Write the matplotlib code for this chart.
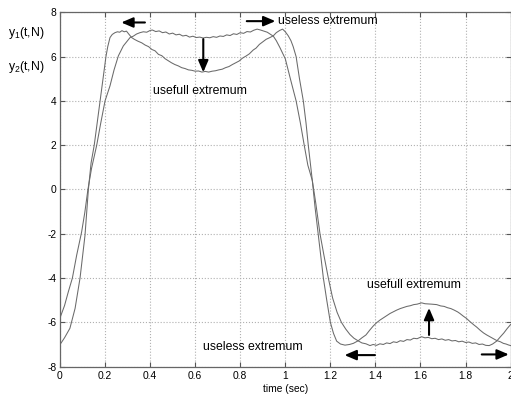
import matplotlib
matplotlib.use('Agg')
import matplotlib.pyplot as plt

plt.rcParams['font.family'] = ['Liberation Sans', 'DejaVu Sans']
plt.rcParams['mathtext.fontset'] = 'custom'
plt.rcParams['mathtext.rm'] = 'Liberation Sans'
plt.rcParams['mathtext.it'] = 'Liberation Sans'

### Data
# y2 : starts at -5.8, rises later, flat top ~7
t_a = [0.00, 0.02, 0.037, 0.055, 0.074, 0.096, 0.110, 0.124, 0.140, 0.163, 0.180, 0.200,
       0.222, 0.240, 0.259, 0.281, 0.300, 0.311, 0.325, 0.340, 0.355, 0.370, 0.385, 0.400,
       0.410, 0.425, 0.440, 0.455, 0.470, 0.485, 0.500, 0.515, 0.530, 0.545, 0.560, 0.575,
       0.590, 0.605, 0.620, 0.635, 0.650, 0.665, 0.680, 0.695, 0.710, 0.725, 0.740, 0.755,
       0.770, 0.785, 0.800, 0.815, 0.830, 0.845, 0.860, 0.875, 0.890, 0.905, 0.920, 0.935,
       0.947, 0.960, 0.976, 1.000, 1.025, 1.048, 1.067, 1.084, 1.100, 1.120, 1.135, 1.154,
       1.172, 1.191, 1.210, 1.230, 1.249, 1.268, 1.287, 1.305, 1.324, 1.340, 1.358, 1.376,
       1.390, 1.405, 1.420, 1.435, 1.450, 1.465, 1.480, 1.495, 1.510, 1.525, 1.540, 1.555,
       1.570, 1.585, 1.605, 1.620, 1.635, 1.650, 1.665, 1.680, 1.695, 1.710, 1.725, 1.740,
       1.755, 1.770, 1.785, 1.800, 1.815, 1.830, 1.845, 1.860, 1.875, 1.890, 1.905, 1.920,
       1.938, 1.955, 1.970, 1.985, 2.000]
y_a = [-5.80, -5.25, -4.62, -4.00, -2.97, -1.92, -1.05, 0.00, 0.95, 2.00, 2.95, 4.00,
       4.68, 5.40, 6.03, 6.48, 6.72, 6.86, 6.92, 7.02, 7.08, 7.12, 7.10, 7.18,
       7.20, 7.13, 7.16, 7.08, 7.11, 7.02, 7.06, 6.98, 7.01, 6.93, 6.96, 6.88,
       6.92, 6.86, 6.88, 6.84, 6.87, 6.85, 6.90, 6.87, 6.93, 6.91, 6.98, 6.95,
       7.03, 7.00, 7.08, 7.05, 7.13, 7.11, 7.19, 7.24, 7.20, 7.15, 7.10, 7.00,
       6.92, 6.72, 6.41, 5.90, 4.90, 4.00, 3.00, 2.00, 1.10, 0.40, -0.60, -2.00,
       -3.00, -4.00, -4.90, -5.55, -6.00, -6.30, -6.55, -6.72, -6.84, -6.93, -6.97, -7.05,
       -7.00, -7.04, -6.97, -7.00, -6.93, -6.96, -6.88, -6.91, -6.83, -6.86, -6.78, -6.80,
       -6.72, -6.74, -6.65, -6.70, -6.68, -6.74, -6.72, -6.78, -6.75, -6.81, -6.78, -6.84,
       -6.82, -6.88, -6.85, -6.91, -6.89, -6.95, -6.93, -7.00, -6.98, -7.04, -7.05, -6.98,
       -6.85, -6.65, -6.48, -6.28, -6.10]

# y1 : starts at -7, steep edges, dips to the usefull extremum
t_b = [0.000, 0.007, 0.020, 0.044, 0.067, 0.089, 0.111, 0.126, 0.138, 0.152, 0.165, 0.178,
       0.191, 0.204, 0.212, 0.222, 0.232, 0.244, 0.255, 0.265, 0.275, 0.285, 0.295, 0.305,
       0.318, 0.330, 0.345, 0.363, 0.378, 0.393, 0.408, 0.422, 0.437, 0.452, 0.467, 0.481,
       0.495, 0.510, 0.525, 0.540, 0.555, 0.570, 0.585, 0.600, 0.615, 0.630, 0.645, 0.660,
       0.675, 0.690, 0.705, 0.720, 0.735, 0.750, 0.765, 0.780, 0.795, 0.810, 0.825, 0.840,
       0.858, 0.870, 0.885, 0.902, 0.915, 0.930, 0.947, 0.960, 0.975, 0.988, 1.000, 1.013,
       1.025, 1.035, 1.048, 1.063, 1.080, 1.092, 1.102, 1.112, 1.120, 1.132, 1.146, 1.158,
       1.169, 1.184, 1.200, 1.214, 1.228, 1.245, 1.265, 1.285, 1.302, 1.324, 1.340, 1.358,
       1.375, 1.390, 1.405, 1.420, 1.435, 1.450, 1.465, 1.480, 1.494, 1.510, 1.525, 1.540,
       1.555, 1.570, 1.585, 1.605, 1.620, 1.635, 1.650, 1.672, 1.690, 1.705, 1.720, 1.735,
       1.750, 1.765, 1.775, 1.790, 1.805, 1.820, 1.835, 1.850, 1.864, 1.880, 1.894, 1.910,
       1.925, 1.938, 1.955, 1.968, 1.980, 1.990, 2.000]
y_b = [-7.00, -6.90, -6.70, -6.27, -5.37, -4.00, -2.07, 0.00, 1.20, 2.00, 3.00, 4.00,
       5.00, 6.00, 6.45, 6.86, 7.00, 7.08, 7.12, 7.10, 7.17, 7.12, 7.15, 7.02,
       6.86, 6.78, 6.70, 6.62, 6.52, 6.45, 6.32, 6.26, 6.10, 6.04, 5.90, 5.81,
       5.72, 5.64, 5.58, 5.50, 5.46, 5.40, 5.38, 5.34, 5.35, 5.30, 5.33, 5.30,
       5.34, 5.36, 5.40, 5.43, 5.50, 5.55, 5.64, 5.72, 5.80, 5.93, 6.02, 6.12,
       6.30, 6.38, 6.55, 6.68, 6.78, 6.85, 6.94, 7.08, 7.18, 7.24, 7.12, 6.94,
       6.72, 6.45, 6.00, 5.00, 4.00, 3.00, 2.00, 1.10, 0.40, -0.80, -2.00, -3.00,
       -4.00, -5.00, -6.00, -6.50, -6.85, -6.98, -7.03, -7.00, -6.95, -6.83, -6.70, -6.57,
       -6.35, -6.17, -6.02, -5.90, -5.80, -5.70, -5.60, -5.52, -5.45, -5.38, -5.33, -5.28,
       -5.25, -5.20, -5.18, -5.12, -5.16, -5.17, -5.18, -5.20, -5.26, -5.28, -5.34, -5.38,
       -5.45, -5.53, -5.60, -5.72, -5.83, -5.97, -6.10, -6.22, -6.35, -6.48, -6.57, -6.66,
       -6.74, -6.82, -6.88, -6.95, -6.98, -7.02, -7.05]

x_ticks = [0, 0.2, 0.4, 0.6, 0.8, 1, 1.2, 1.4, 1.6, 1.8, 2]
x_tick_labels = ['0', '0.2', '0.4', '0.6', '0.8', '1', '1.2', '1.4', '1.6', '1.8', '2']
y_ticks = [-8, -6, -4, -2, 0, 2, 4, 6, 8]
y_tick_labels = ['-8', '-6', '-4', '-2', '0', '2', '4', '6', '8']

# (text, x, y)
notes = [('useless extremum', 0.969, 7.60),
         ('usefull extremum', 0.414, 4.46),
         ('usefull extremum', 1.361, -4.32),
         ('useless extremum', 0.633, -7.10)]
# (tail, tip)
arrows = [((0.377, 7.54), (0.272, 7.54)),
          ((0.829, 7.60), (0.956, 7.60)),
          ((0.636, 6.79), (0.636, 5.29)),
          ((1.638, -6.57), (1.638, -5.35)),
          ((1.398, -7.48), (1.263, -7.48)),
          ((1.872, -7.45), (1.992, -7.45))]

fig = plt.figure(figsize=(5.11, 3.94), dpi=100)
ax = fig.add_axes([0.1174, 0.0695, 0.8818, 0.8993])

ax.plot(t_a, y_a, color='#6a6a6a', lw=0.75)
ax.plot(t_b, y_b, color='#6a6a6a', lw=0.75)

ax.set_xlim(0, 2)
ax.set_ylim(-8, 8)
ax.set_xticks(x_ticks)
ax.set_xticklabels(x_tick_labels)
ax.set_yticks(y_ticks)
ax.set_yticklabels(y_tick_labels)
ax.grid(True, color='#b0b0b0', linestyle=':', lw=0.8)
ax.tick_params(direction='in', length=3.5, width=0.8, color='#555555',
               labelsize=7.4, top=True, right=True)
ax.tick_params(axis='y', pad=2.5)
ax.tick_params(axis='x', pad=3)
for sp in ax.spines.values():
    sp.set_color('#666666')
    sp.set_linewidth(0.9)

ax.set_xlabel('time (sec)', fontsize=7.4, labelpad=2)

for txt, x, y in notes:
    ax.text(x, y, txt, fontsize=8.8, va='center', ha='left')

for tail, tip in arrows:
    ax.annotate('', xy=tip, xytext=tail,
                arrowprops=dict(arrowstyle='-|>,head_length=0.7,head_width=0.3',
                                color='k', lw=1.5, shrinkA=0, shrinkB=0))

fig.text(8 / 511, 1 - 33 / 394, r'y$\mathregular{_1}$(t,N)', fontsize=8.8, va='center')
fig.text(8 / 511, 1 - 67 / 394, r'y$\mathregular{_2}$(t,N)', fontsize=8.8, va='center')

fig.savefig('out.png', dpi=100)
